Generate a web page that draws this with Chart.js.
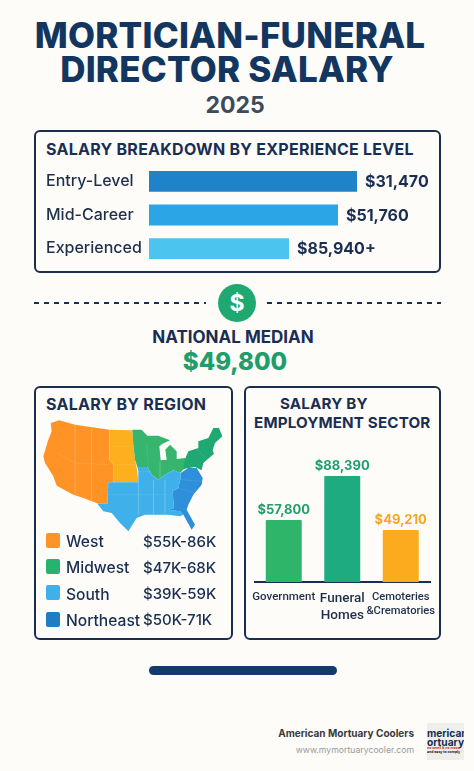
<!DOCTYPE html>
<html>
<head>
<meta charset="utf-8">
<title>Mortician-Funeral Director Salary</title>
<script src="https://cdn.jsdelivr.net/npm/chart.js@4"></script>
<style>
  html, body { margin: 0; padding: 0; background: #fdfcf9; }
  body { position: relative; width: 474px; height: 771px; overflow: hidden; font-family: Inter, "Noto Sans", sans-serif; color: #1a2e52; }
  .t { position: absolute; white-space: nowrap; line-height: 20px; }
  .c { transform: translateX(-50%); }
  .r { transform: translateX(-100%); }
  .box { position: absolute; box-sizing: border-box; border: 2px solid #1a2e52; border-radius: 6px; }
  .head { font-size: 35px; font-weight: 800; line-height: 36px; color: #12365f; letter-spacing: .2px; }
  .sect { font-size: 16px; font-weight: 700; letter-spacing: .26px; }
  .sect2 { font-size: 15.2px; font-weight: 700; letter-spacing: .15px; }
  .swatch { position: absolute; left: 46px; width: 14px; height: 15px; border-radius: 2px; }
  .leg { font-size: 15.6px; font-weight: 500; }
  .rng { font-size: 15px; font-weight: 500; left: 143px; }
  .dash { position: absolute; top: 302px; height: 2px; background: repeating-linear-gradient(90deg, #1a2e52 0 5px, transparent 5px 10px); }
  canvas { position: absolute; display: block; }
</style>
</head>
<body>
  <div class="t c head" style="left:230px;top:17px">MORTICIAN-FUNERAL</div>
  <div class="t c head" style="left:227px;top:51px">DIRECTOR SALARY</div>
  <div class="t c" style="left:235px;top:95px;font-size:23px;font-weight:700;color:#3d4b5a">2025</div>

  <div class="box" style="left:34px;top:130px;width:407px;height:143px"></div>
  <div class="t sect" style="left:46px;top:139px">SALARY BREAKDOWN BY EXPERIENCE LEVEL</div>
  <canvas id="levelChart" width="394" height="120" style="left:46px;top:155px"></canvas>

  <div class="dash" style="left:34px;width:172px"></div>
  <div class="dash" style="left:267px;width:174px"></div>
  <div style="position:absolute;left:218px;top:284px;width:38px;height:38px;border-radius:50%;background:#1fa971"></div>
  <div class="t c" style="left:237px;top:293px;font-size:23px;font-weight:700;color:#fff">$</div>
  <div class="t c" style="left:233px;top:327px;font-size:17px;font-weight:700">NATIONAL MEDIAN</div>
  <div class="t c" style="left:235px;top:352px;font-size:24px;font-weight:800;color:#1f9d6b">$49,800</div>

  <div class="box" style="left:34px;top:386px;width:199px;height:254px"></div>
  <div class="t sect" style="left:46px;top:394px">SALARY BY REGION</div>
  <canvas id="mapChart" width="185" height="115" style="left:40px;top:418px"></canvas>
  <div class="swatch" style="top:533px;background:#ff9326"></div>
  <div class="t leg" style="left:66px;top:532px">West</div>
  <div class="t rng" style="top:532px">$55K-86K</div>
  <div class="swatch" style="top:559px;background:#27b36f"></div>
  <div class="t leg" style="left:66px;top:558px">Midwest</div>
  <div class="t rng" style="top:558px">$47K-68K</div>
  <div class="swatch" style="top:585px;background:#3fb0ea"></div>
  <div class="t leg" style="left:66px;top:585px">South</div>
  <div class="t rng" style="top:584px">$39K-59K</div>
  <div class="swatch" style="top:612px;background:#1f7dc4"></div>
  <div class="t leg" style="left:66px;top:611px">Northeast</div>
  <div class="t rng" style="top:610px">$50K-71K</div>

  <div class="box" style="left:244px;top:386px;width:197px;height:254px"></div>
  <div class="t sect2" style="left:280px;top:394px">SALARY BY</div>
  <div class="t sect2" style="left:254px;top:413px">EMPLOYMENT SECTOR</div>
  <canvas id="sectorChart" width="214" height="180" style="left:236px;top:450px"></canvas>

  <div style="position:absolute;left:149px;top:666px;width:188px;height:9px;border-radius:5px;background:#123a6e"></div>

  <div class="t r" style="left:414px;top:723px;font-size:10px;font-weight:700;color:#3a3a3a">American Mortuary Coolers</div>
  <div class="t r" style="left:414px;top:740px;font-size:8.7px;color:#9a9a9a">www.mymortuarycooler.com</div>
  <div style="position:absolute;left:427px;top:723px;width:37px;height:37px;background:#eeeeec;overflow:hidden">
    <div class="t" style="left:0;top:5px;font-size:10.2px;line-height:10px;font-weight:700">merican</div>
    <div class="t" style="left:0;top:14px;font-size:10.2px;line-height:10px;font-weight:700">ortuary</div>
    <div class="t" style="left:0;top:23px;font-size:3.5px;line-height:4px;font-weight:700;color:#c0392b">no smell &amp; no mess</div>
    <div class="t" style="left:0;top:27px;font-size:3.5px;line-height:4px;font-weight:700;color:#222">and easy to comply</div>
  </div>

<script>
// bar lengths and heights are read off the picture, they do not follow the printed salaries
const levelNames = ["Entry-Level", "Mid-Career", "Experienced"];
const levelLengths = [208, 189, 140];
const levelSalaries = ["$31,470", "$51,760", "$85,940+"];
const levelColors = ["#1f83c9", "#2ba5e6", "#4cc4f0"];

const sectorNames = ["Government", ["Funeral", "Homes"], ["Cemoteries", "&Crematories"]];
const sectorHeights = [62, 106, 52];
const sectorSalaries = ["$57,800", "$88,390", "$49,210"];
const sectorColors = ["#2fb56a", "#1fab80", "#fdab1e"];
const sectorTextColors = ["#259c6d", "#1f9d73", "#f5a623"];
const sectorTickSizes = [11.5, 13.5, 11.2];

// map outlines, in map units
const westOutline = [[92,130],[118,122],[165,135],[268,150],[268,240],[280,255],[280,308],[265,308],[262,372],[235,372],[190,355],[160,345],[110,318],[100,290],[75,250],[70,230],[85,180],[95,155]];
const plainsOutline = [[268,150],[337,152],[340,195],[345,240],[352,275],[355,308],[280,308],[280,255],[268,240]];
const midwestOutline = [[337,150],[365,150],[382,168],[415,168],[450,182],[428,192],[418,200],[422,242],[440,240],[436,210],[450,195],[470,215],[470,238],[495,235],[495,265],[480,280],[460,272],[435,285],[415,300],[395,285],[382,262],[352,262],[345,240],[340,195]];
const northeastOutline = [[495,238],[505,215],[535,205],[535,185],[565,175],[580,145],[597,145],[607,170],[585,190],[578,212],[582,222],[550,250],[545,272],[525,262],[490,268]];
const southOutline = [[265,308],[355,308],[355,275],[352,262],[382,262],[395,285],[415,300],[435,285],[460,272],[482,280],[482,295],[475,325],[458,335],[462,385],[445,390],[480,395],[490,405],[480,410],[445,405],[405,405],[375,405],[350,415],[325,455],[300,430],[275,400],[250,395],[232,372],[262,372]];
const southeastOutline = [[482,280],[505,265],[530,265],[548,295],[545,315],[520,345],[505,375],[500,390],[525,435],[515,450],[490,405],[480,395],[445,390],[462,385],[458,335],[475,325],[482,295]];
const regionOutlines = [westOutline, plainsOutline, midwestOutline, northeastOutline, southOutline, southeastOutline];
const regionColors = ["#ff9326", "#fdb01e", "#36b56e", "#1fa971", "#3fb0ea", "#2e8fdb"];
// faint state borders
const stateLines = [
  [[165,135],[165,250]], [[110,220],[165,250],[165,345]], [[165,250],[268,255]], [[215,145],[215,255]], [[215,255],[215,362]],
  [[268,200],[340,200]], [[280,255],[348,255]], [[355,275],[395,275]], [[265,345],[440,345]], [[355,308],[355,405]],
  [[400,300],[400,405]], [[435,300],[435,400]], [[380,195],[385,262]], [[420,245],[420,295]], [[530,205],[560,240]],
  [[482,300],[545,305]], [[475,325],[525,340]],
];

// prints a text above or beside each bar
const barTextPlugin = {
  id: "barText",
  afterDatasetsDraw(chart, args, opts) {
    const ctx = chart.ctx;
    const bars = chart.getDatasetMeta(0).data;
    ctx.save();
    ctx.font = opts.font;
    bars.forEach((bar, i) => {
      ctx.fillStyle = opts.colors[i];
      if (opts.horizontal) {
        ctx.textAlign = "left";
        ctx.textBaseline = "middle";
        ctx.fillText(opts.texts[i], bar.x + 8, bar.y + 1);
      } else {
        ctx.textAlign = "center";
        ctx.textBaseline = "bottom";
        ctx.fillText(opts.texts[i], bar.x, bar.y - 3);
      }
    });
    ctx.restore();
  },
};

// closes and fills each outline, the points come from the chart's scales
const regionFillPlugin = {
  id: "regionFill",
  beforeDatasetsDraw(chart) {
    const ctx = chart.ctx;
    chart.data.datasets.forEach((ds, i) => {
      if (!ds.isRegion) return;
      const pts = chart.getDatasetMeta(i).data;
      ctx.beginPath();
      pts.forEach((p, j) => (j ? ctx.lineTo(p.x, p.y) : ctx.moveTo(p.x, p.y)));
      ctx.closePath();
      ctx.fillStyle = ds.backgroundColor;
      ctx.fill();
    });
  },
};

new Chart(document.getElementById("levelChart"), {
  type: "bar",
  plugins: [barTextPlugin],
  data: {
    labels: levelNames,
    datasets: [{ data: levelLengths, backgroundColor: levelColors, categoryPercentage: 1, barPercentage: 0.62 }],
  },
  options: {
    indexAxis: "y",
    responsive: false,
    animation: false,
    plugins: {
      legend: { display: false },
      tooltip: { enabled: false },
      barText: { horizontal: true, texts: levelSalaries, colors: ["#1a2e52", "#1a2e52", "#1a2e52"], font: "700 16px Inter" },
    },
    scales: {
      x: { display: false, min: 0, max: 291 },
      y: {
        afterFit: (s) => { s.width = 103; },
        grid: { display: false },
        border: { display: false },
        ticks: { crossAlign: "far", padding: 0, color: "#1f2f4a", font: { family: "Inter", size: 16, weight: 500 } },
      },
    },
  },
});

new Chart(document.getElementById("mapChart"), {
  type: "scatter",
  plugins: [regionFillPlugin],
  data: {
    datasets: [
      ...regionOutlines.map((outline, i) => ({
        isRegion: true,
        data: outline.map(([x, y]) => ({ x, y })),
        showLine: false,
        backgroundColor: regionColors[i],
        pointRadius: 0,
      })),
      ...stateLines.map((line) => ({
        data: line.map(([x, y]) => ({ x, y })),
        showLine: true,
        borderColor: "rgba(255,255,255,0.13)",
        borderWidth: 0.7,
        pointRadius: 0,
      })),
    ],
  },
  options: {
    responsive: false,
    animation: false,
    layout: { padding: 0 },
    plugins: { legend: { display: false }, tooltip: { enabled: false } },
    scales: {
      x: { display: false, min: 60, max: 615 },
      y: { display: false, min: 115, max: 460, reverse: true },
    },
  },
});

new Chart(document.getElementById("sectorChart"), {
  type: "bar",
  plugins: [barTextPlugin],
  data: {
    labels: sectorNames,
    datasets: [{ data: sectorHeights, backgroundColor: sectorColors, borderRadius: 1, categoryPercentage: 1, barPercentage: 0.615 }],
  },
  options: {
    responsive: false,
    animation: false,
    layout: { padding: { left: 18.5, right: 20 } },
    plugins: {
      legend: { display: false },
      tooltip: { enabled: false },
      barText: { texts: sectorSalaries, colors: sectorTextColors, font: "700 13px Inter" },
    },
    scales: {
      x: {
        afterFit: (s) => { s.height = 48; },
        grid: { display: false, drawTicks: false },
        border: { color: "#1a2e52", width: 2 },
        ticks: {
          padding: 8,
          maxRotation: 0,
          autoSkip: false,
          color: "#1f2f4a",
          font: (c) => ({ family: "Roboto", size: sectorTickSizes[c.index], weight: 500, lineHeight: 1.27 }),
        },
      },
      y: { display: false, min: 0, max: 132 },
    },
  },
});
</script>
</body>
</html>
